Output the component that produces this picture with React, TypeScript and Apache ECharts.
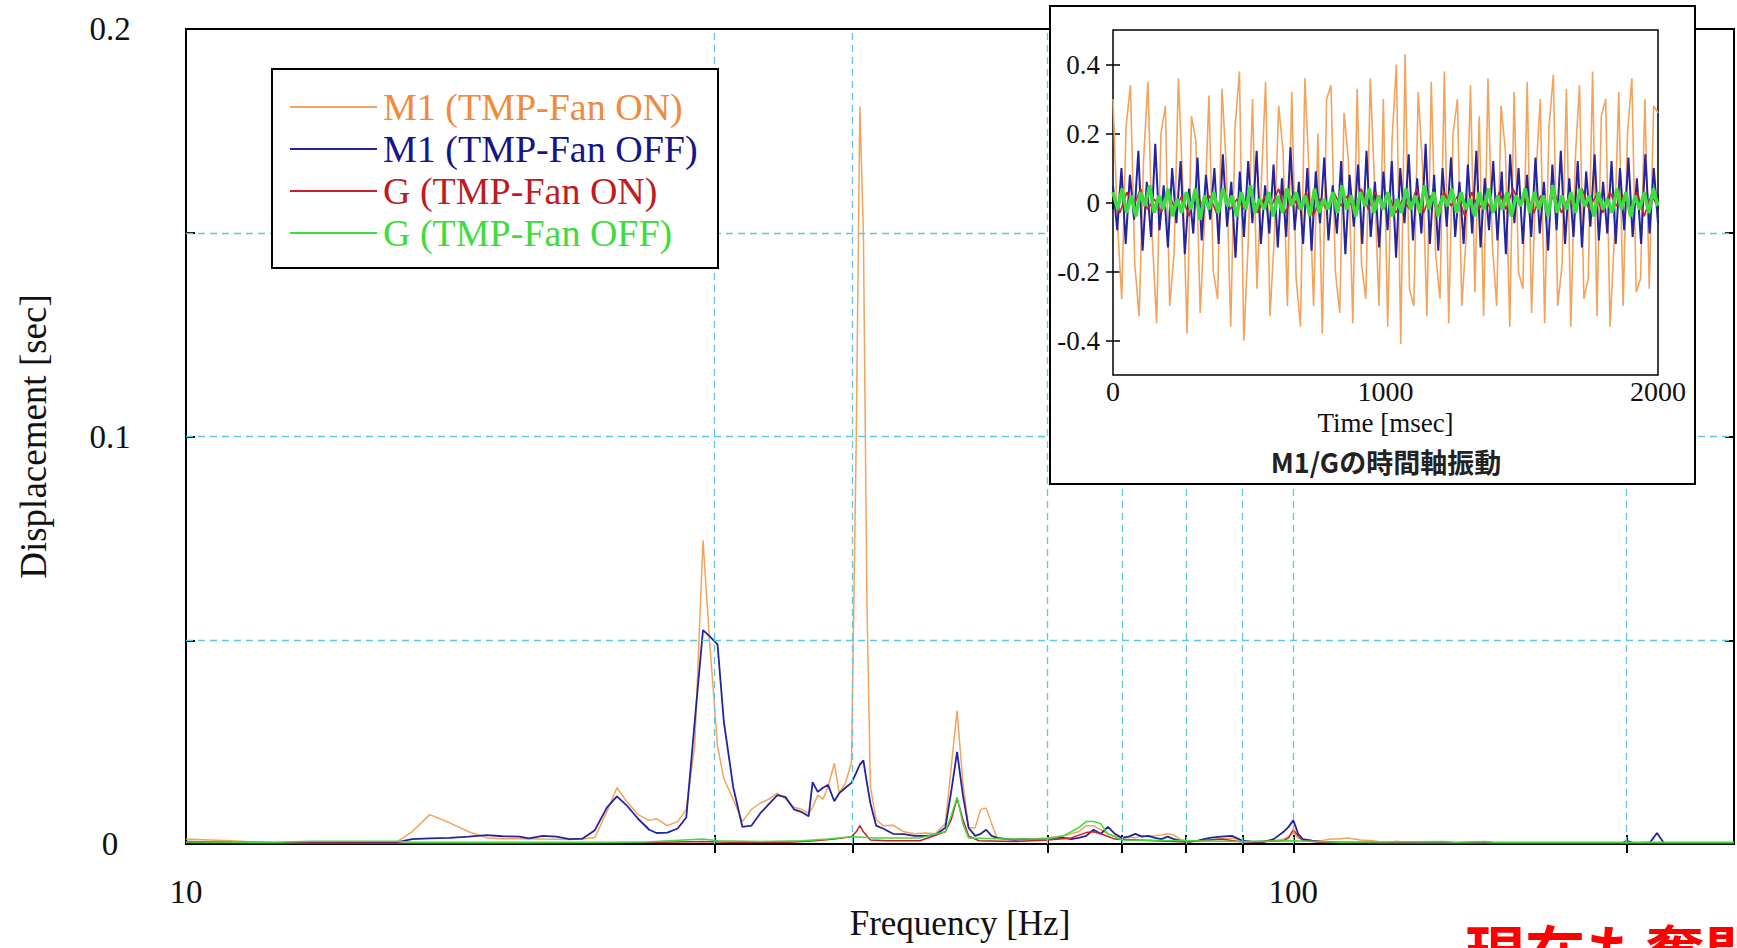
import React, { useEffect, useRef } from "react";
import * as echarts from "echarts";

// ---- Main spectrum data: [frequency Hz, displacement] ----
const M1_FAN_ON: [number, number][] = [
  [10,0.0012],[10.5,0.001],[11,0.0008],[11.5,0.0005],[12,0.0004],[13,0.0003],[14,0.0003],[15,0.0003],[15.5,0.0005],
  [16,0.003],[16.6,0.0072],[17.3,0.0052],[18,0.003],[18.7,0.0015],[19.3,0.0013],[20,0.0013],[21,0.0012],[22.2,0.0011],
  [22.8,0.0012],[23.4,0.0016],[24,0.008],[24.5,0.0138],[25,0.0105],[25.6,0.0072],[26.2,0.0058],[26.6,0.0062],[27.2,0.0045],
  [27.8,0.0055],[28.3,0.0085],[28.8,0.024],[29.3,0.0745],[29.7,0.05],[30.2,0.024],[30.6,0.016],[31.2,0.011],[31.8,0.0055],
  [32.4,0.0085],[33,0.01],[33.6,0.011],[34.2,0.0125],[34.8,0.011],[35.4,0.009],[36,0.0085],[36.5,0.0075],[36.8,0.009],
  [37.2,0.012],[37.6,0.011],[38,0.014],[38.5,0.0198],[38.9,0.0125],[39.4,0.015],[39.9,0.02],[40.3,0.1],[40.6,0.181],
  [40.9,0.15],[41.2,0.06],[41.5,0.014],[42,0.006],[42.6,0.0045],[43.5,0.0046],[44.5,0.003],[45.5,0.0025],[46.5,0.0027],
  [47.5,0.0025],[48.5,0.005],[49.1,0.019],[49.7,0.0327],[50.3,0.015],[50.9,0.004],[51.6,0.004],[52.2,0.0085],[52.8,0.0088],
  [53.4,0.005],[54,0.0015],[56,0.0012],[58,0.0012],[60,0.0015],[62,0.002],[63,0.0025],[64,0.003],[65,0.0045],[66,0.0045],
  [67,0.0035],[68,0.0025],[69,0.002],[70,0.0015],[71,0.0018],[72,0.0015],[73,0.002],[74,0.0018],[75,0.002],[76,0.0022],
  [77,0.0025],[78,0.0022],[79,0.0012],[80,0.0008],[82,0.0008],[84,0.001],[86,0.0012],[88,0.0015],[90,0.0008],[92,0.0005],
  [94,0.0005],[96,0.0008],[98,0.0012],[99,0.0018],[100,0.0028],[101,0.0015],[102,0.001],[104,0.0008],[106,0.0008],
  [108,0.0012],[110,0.0012],[112,0.0015],[115,0.001],[118,0.0008],[121,0.0003],[124,0.0007],[128,0.0003],[140,0.0002],
  [160,0.0002],[200,0.0002],[250,0.0002],
];

const M1_FAN_OFF: [number, number][] = [
  [10,0.0006],[11,0.0004],[12,0.0003],[15,0.0003],[15.5,0.0004],[16,0.0012],[16.6,0.0014],[17.3,0.0015],[18,0.0018],
  [18.7,0.0022],[19.3,0.0019],[20,0.0018],[20.4,0.0014],[21,0.002],[21.6,0.0018],[22.2,0.0012],[22.8,0.0013],[23.4,0.0034],
  [24,0.009],[24.5,0.0117],[25,0.0095],[25.6,0.0062],[26.2,0.0035],[26.6,0.0027],[27.2,0.0028],[27.8,0.0038],[28.3,0.0065],
  [28.8,0.03],[29.3,0.0525],[29.7,0.051],[30.2,0.049],[30.6,0.03],[31.2,0.014],[31.8,0.0042],[32.4,0.0045],[33,0.0075],
  [33.6,0.0098],[34.2,0.012],[34.8,0.0115],[35.4,0.0085],[36,0.0078],[36.5,0.0068],[36.8,0.0152],[37.2,0.0128],[37.6,0.0138],
  [38,0.0145],[38.5,0.0105],[38.9,0.0125],[39.4,0.0138],[39.9,0.015],[40.3,0.0175],[40.6,0.0195],[40.9,0.0205],[41.2,0.015],
  [41.5,0.01],[42,0.0045],[42.6,0.0038],[43.5,0.0025],[44.5,0.0024],[45.5,0.002],[46.5,0.002],[47.5,0.0022],[48.5,0.004],
  [49.1,0.013],[49.7,0.0226],[50.3,0.012],[50.9,0.004],[51.6,0.002],[52.2,0.0025],[52.8,0.0035],[53.4,0.002],[54,0.0015],
  [55,0.0012],[56,0.001],[57,0.0012],[58,0.001],[60,0.0012],[61,0.0015],[62,0.0015],[63,0.0012],[64,0.0015],[65,0.002],
  [66,0.0035],[67,0.0025],[68,0.0042],[69,0.0025],[70,0.0015],[71,0.0018],[72,0.0025],[73,0.0018],[74,0.002],[75,0.0015],
  [76,0.0012],[77,0.0018],[78,0.0012],[79,0.0008],[80,0.0005],[82,0.0008],[84,0.0015],[86,0.0018],[88,0.002],[90,0.0008],
  [92,0.0005],[94,0.0005],[96,0.0012],[98,0.003],[99,0.0042],[100,0.0058],[101,0.0025],[102,0.0012],[104,0.0008],
  [106,0.0005],[110,0.0004],[130,0.0002],[198,0.0002],[200,0.0008],[203,0.0002],[210,0.0004],[213,0.0027],[216,0.0003],
  [250,0.0002],
];

const G_FAN_ON: [number, number][] = [
  [10,0.0003],[15,0.0002],[20,0.0002],[24,0.0003],[27,0.0004],[29.3,0.0006],[31,0.0004],[35,0.0004],[37,0.0008],
  [38.5,0.0012],[39.9,0.0018],[40.3,0.003],[40.6,0.0045],[40.9,0.003],[41.5,0.001],[43,0.0008],[46,0.0008],[48.5,0.003],
  [49.1,0.006],[49.7,0.0112],[50.3,0.006],[50.9,0.002],[52,0.0008],[56,0.0006],[60,0.001],[63,0.0015],[65,0.0028],
  [66,0.003],[67,0.0025],[69,0.0012],[75,0.0008],[80,0.0005],[86,0.0012],[90,0.0005],[98,0.0008],[99,0.0015],
  [100,0.0035],[101,0.002],[102,0.0008],[106,0.0004],[130,0.0002],[250,0.0002],
];

const G_FAN_OFF: [number, number][] = [
  [10,0.0005],[12,0.0004],[13,0.0007],[15.5,0.0007],[16,0.0004],[23,0.0004],[26,0.0005],[29.3,0.0012],[30.2,0.0008],
  [33,0.0006],[36,0.0008],[38,0.0012],[40,0.0018],[42,0.0015],[46,0.0015],[48.5,0.003],[49.1,0.007],[49.7,0.0115],
  [50.3,0.005],[50.9,0.0015],[55,0.0012],[60,0.0012],[62,0.002],[63,0.003],[64,0.004],[65,0.0055],[66,0.0055],
  [67,0.005],[68,0.0025],[70,0.001],[80,0.0008],[90,0.0006],[100,0.0008],[110,0.0004],[137,0.0006],[140,0.0004],
  [149,0.0006],[152,0.0004],[250,0.0004],
];

// ---- Inset: time-domain vibration samples (evenly sampled over 0..2000 msec) ----
const TIME_ORANGE = [
  0.30,-0.05,-0.28,0.22,0.34,-0.18,-0.33,0.12,0.35,-0.10,-0.35,0.20,0.28,-0.30,-0.15,0.36,0.05,-0.38,0.25,0.18,
  -0.32,-0.05,0.31,-0.20,-0.28,0.33,0.10,-0.36,0.22,0.38,-0.40,-0.12,0.30,-0.25,0.05,0.35,-0.33,-0.10,0.28,0.15,
  -0.30,0.32,-0.22,-0.36,0.36,0.08,-0.30,0.20,-0.38,0.30,0.34,-0.20,-0.32,0.26,0.12,-0.35,0.33,-0.18,-0.28,0.36,
  0.05,-0.30,0.30,-0.36,0.18,0.40,-0.41,0.43,-0.25,-0.30,0.32,0.10,-0.33,0.35,-0.15,-0.28,0.38,-0.35,0.20,0.30,
  -0.30,-0.10,0.34,-0.26,0.25,-0.33,0.36,-0.12,-0.30,0.28,0.15,-0.36,0.32,-0.20,-0.25,0.35,-0.32,0.08,0.30,-0.35,
  0.22,0.37,-0.30,-0.18,0.33,-0.36,0.12,0.34,-0.28,-0.22,0.38,-0.33,0.25,0.30,-0.36,-0.10,0.32,-0.30,0.20,0.36,
  -0.26,-0.22,0.30,-0.25,0.28,0.26,
];
const TIME_BLUE = [
  0.05,-0.08,0.10,-0.12,0.08,-0.05,0.15,-0.14,0.06,-0.10,0.17,-0.08,0.05,-0.13,0.10,-0.06,0.12,-0.15,0.04,-0.09,
  0.13,-0.11,0.08,-0.05,0.10,-0.12,0.14,-0.07,0.06,-0.16,0.09,-0.10,0.12,-0.06,0.15,-0.12,0.05,-0.09,0.11,-0.13,
  0.07,-0.10,0.16,-0.08,0.06,-0.12,0.10,-0.14,0.09,-0.06,0.13,-0.11,0.05,-0.09,0.12,-0.15,0.08,-0.07,0.11,-0.12,
  0.15,-0.10,0.06,-0.13,0.09,-0.08,0.12,-0.16,0.10,-0.06,0.14,-0.11,0.07,-0.09,0.17,-0.12,0.08,-0.14,0.10,-0.07,
  0.13,-0.10,0.06,-0.12,0.11,-0.09,0.15,-0.13,0.07,-0.08,0.12,-0.11,0.09,-0.15,0.14,-0.06,0.10,-0.12,0.08,-0.10,
  0.13,-0.09,0.06,-0.14,0.11,-0.08,0.15,-0.12,0.07,-0.10,0.12,-0.13,0.09,-0.07,0.14,-0.11,0.06,-0.09,0.12,-0.12,
  0.10,-0.08,0.13,-0.10,0.07,-0.12,0.14,-0.09,0.10,-0.06,
];
const TIME_RED = [
  0.02,-0.03,0.03,-0.01,0.04,-0.02,0.01,-0.03,0.03,-0.02,0.02,-0.04,0.03,-0.01,0.02,-0.03,0.04,-0.02,0.01,-0.02,
  0.03,-0.03,0.02,-0.01,0.04,-0.03,0.02,-0.02,0.03,-0.04,0.01,-0.02,0.03,-0.01,0.02,-0.03,0.04,-0.02,0.03,-0.01,
  0.02,-0.03,0.01,-0.02,0.04,-0.03,0.02,-0.02,0.03,-0.01,0.02,-0.04,0.03,-0.02,0.01,-0.03,0.03,-0.02,0.04,-0.01,
  0.02,-0.03,0.02,-0.02,0.03,-0.03,0.01,-0.02,0.04,-0.02,0.02,-0.03,0.03,-0.01,0.02,-0.02,0.03,-0.04,0.02,-0.01,
];
const TIME_GREEN = [
  0.03,-0.02,0.04,-0.03,0.02,-0.04,0.03,-0.01,0.05,-0.03,0.02,-0.02,0.04,-0.04,0.01,-0.03,0.03,-0.02,0.04,-0.05,
  0.02,-0.02,0.03,-0.03,0.04,-0.01,0.02,-0.04,0.03,-0.02,0.05,-0.03,0.01,-0.02,0.03,-0.04,0.02,-0.03,0.04,-0.01,
  0.03,-0.02,0.02,-0.04,0.04,-0.03,0.01,-0.02,0.03,-0.03,0.05,-0.02,0.02,-0.04,0.03,-0.01,0.04,-0.03,0.02,-0.02,
  0.03,-0.04,0.01,-0.03,0.04,-0.02,0.02,-0.03,0.05,-0.02,0.03,-0.04,0.02,-0.01,0.04,-0.03,0.03,-0.02,0.01,-0.04,
  0.03,-0.02,0.04,-0.03,0.02,-0.02,0.03,-0.04,0.02,-0.01,0.04,-0.03,0.03,-0.02,0.02,-0.04,0.05,-0.03,0.02,-0.02,
  0.03,-0.03,0.04,-0.01,0.02,-0.04,0.03,-0.02,0.01,-0.03,0.04,-0.02,0.03,-0.04,0.02,-0.02,0.03,-0.03,0.04,-0.01,
];

// ---- Axis ticks / labels ----
const FREQ_GRID = [30, 40, 60, 70, 80, 90, 100, 200];
const FREQ_LABELS = [10, 100];
const DISP_GRID = [0.05, 0.1, 0.15];
const INSET_Y_TICKS = [-0.4, -0.2, 0, 0.2, 0.4];
const INSET_TIME_MAX = 2000;

const NAMES = ["M1 (TMP-Fan ON)", "M1 (TMP-Fan OFF)", "G (TMP-Fan ON)", "G (TMP-Fan OFF)"];
const COLORS = ["#F4A35C", "#24249E", "#C8202A", "#3EDC3E"];
const TEXT_COLORS = ["#F08A3C", "#14148C", "#C01A22", "#3EDC3E"];

const SERIF = "'Liberation Serif', 'Times New Roman', serif";
const CJK = "'Noto Sans CJK JP', 'Noto Sans', sans-serif";
const GRID_COLOR = "#5CC9DE";

function toTimeSeries(vals: number[]): [number, number][] {
  const step = INSET_TIME_MAX / (vals.length - 1);
  return vals.map((v, i) => [i * step, v]);
}

export default function App() {
  const ref = useRef<HTMLDivElement>(null);
  useEffect(() => {
    if (!ref.current) return;
    const chart = echarts.init(ref.current, null, { renderer: "svg" });

    const tickStyle = { color: "#000", width: 2 };
    const dashed = { color: GRID_COLOR, width: 1.3, type: [7, 5] as any };

    const option: any = {
      animation: false,
      backgroundColor: "#ffffff",
      grid: [
        {
          left: 186, top: 29, width: 1548, height: 815, show: true, borderColor: "#000", borderWidth: 2,
          backgroundColor: "transparent", z: 0, containLabel: false, outerBoundsMode: "none",
        },
        {
          left: 1113, top: 30, width: 545, height: 345, show: true, borderColor: "#000", borderWidth: 1.5,
          backgroundColor: "transparent", z: 10, containLabel: false, outerBoundsMode: "none",
        },
      ],
      xAxis: [
        {
          gridIndex: 0, type: "log", logBase: 10, min: 10, max: 250, position: "bottom",
          axisLine: { show: false },
          axisTick: { show: true, inside: true, length: 9, customValues: FREQ_GRID, lineStyle: tickStyle },
          axisLabel: { show: true, customValues: FREQ_LABELS, fontSize: 33, fontFamily: SERIF, color: "#111", margin: 31 },
          splitLine: { show: false }, minorTick: { show: false },
          name: "Frequency [Hz]", nameLocation: "middle", nameGap: 62, nameMoveOverlap: false,
          nameTextStyle: { fontSize: 35, fontFamily: SERIF, color: "#111" },
        },
        {
          gridIndex: 0, type: "log", logBase: 10, min: 10, max: 250, position: "top",
          axisLine: { show: false },
          axisTick: { show: true, inside: true, length: 9, customValues: FREQ_GRID, lineStyle: tickStyle },
          axisLabel: { show: false }, splitLine: { show: false },
        },
        {
          gridIndex: 1, type: "value", min: 0, max: INSET_TIME_MAX, interval: 1000, position: "bottom", z: 10,
          axisLine: { show: false },
          axisTick: { show: true, inside: true, length: 7, lineStyle: { color: "#000", width: 1.5 } },
          axisLabel: { fontSize: 28, fontFamily: SERIF, color: "#111", margin: 2, formatter: (v: number) => String(v) },
          splitLine: { show: false },
          name: "Time [msec]", nameLocation: "middle", nameGap: 34,
          nameTextStyle: { fontSize: 27, fontFamily: SERIF, color: "#111" },
        },
        {
          gridIndex: 1, type: "value", min: 0, max: INSET_TIME_MAX, interval: 1000, position: "top", z: 10,
          axisLine: { show: false },
          axisTick: { show: true, inside: true, length: 7, lineStyle: { color: "#000", width: 1.5 } },
          axisLabel: { show: false }, splitLine: { show: false },
        },
      ],
      yAxis: [
        {
          gridIndex: 0, type: "value", min: 0, max: 0.2, interval: 0.05, position: "left",
          axisLine: { show: false },
          axisTick: { show: true, inside: true, length: 9, lineStyle: tickStyle },
          axisLabel: {
            fontSize: 33, fontFamily: SERIF, color: "#111", margin: 76, align: "center",
            formatter: (v: number) => (Math.abs(v) < 1e-9 ? "0" : Math.abs(v - 0.1) < 1e-9 ? "0.1" : Math.abs(v - 0.2) < 1e-9 ? "0.2" : ""),
          },
          splitLine: { show: false },
          name: "Displacement [sec]", nameLocation: "middle", nameGap: 134, nameRotate: 90,
          nameTextStyle: { fontSize: 37, fontFamily: SERIF, color: "#111" },
        },
        {
          gridIndex: 0, type: "value", min: 0, max: 0.2, interval: 0.05, position: "right",
          axisLine: { show: false },
          axisTick: { show: true, inside: true, length: 9, lineStyle: tickStyle },
          axisLabel: { show: false }, splitLine: { show: false },
        },
        {
          gridIndex: 1, type: "value", min: -0.5, max: 0.5, position: "left", z: 10,
          axisLine: { show: false },
          axisTick: { show: true, inside: true, length: 7, customValues: INSET_Y_TICKS, lineStyle: { color: "#000", width: 1.5 } },
          axisLabel: { customValues: INSET_Y_TICKS, fontSize: 27, fontFamily: SERIF, color: "#111", margin: 13 },
          splitLine: { show: false },
        },
        {
          gridIndex: 1, type: "value", min: -0.5, max: 0.5, position: "right", z: 10,
          axisLine: { show: false },
          axisTick: { show: true, inside: true, length: 7, customValues: INSET_Y_TICKS, lineStyle: { color: "#000", width: 1.5 } },
          axisLabel: { show: false }, splitLine: { show: false },
        },
      ],
      legend: {
        orient: "vertical", left: 290, top: 88, padding: 0, itemGap: 4,
        itemWidth: 87, itemHeight: 2, icon: "rect", z: 20,
        textStyle: { fontSize: 38, fontFamily: SERIF, padding: [0, 0, 0, 1] },
        data: NAMES.map((n, i) => ({ name: n, itemStyle: { color: COLORS[i] }, textStyle: { color: TEXT_COLORS[i] } })),
      },
      series: [
        // grid lines (drawn through the axis scales)
        {
          type: "line", xAxisIndex: 0, yAxisIndex: 0, data: [], silent: true, z: 1,
          markLine: {
            silent: true, symbol: "none", label: { show: false },
            lineStyle: dashed,
            data: [
              ...FREQ_GRID.map((f) => ({ xAxis: f })),
              ...DISP_GRID.map((d) => ({ yAxis: d })),
            ],
          },
        },
        ...[M1_FAN_ON, M1_FAN_OFF, G_FAN_ON, G_FAN_OFF].map((d, i) => ({
          name: NAMES[i], type: "line", xAxisIndex: 0, yAxisIndex: 0, data: d,
          showSymbol: false, symbol: "none", z: 2 + i,
          lineStyle: { color: COLORS[i], width: i === 1 ? 1.8 : 1.5 },
          itemStyle: { color: COLORS[i] },
        })),
        ...[TIME_ORANGE, TIME_BLUE, TIME_RED, TIME_GREEN].map((d, i) => ({
          name: NAMES[i] + " (t)", type: "line", xAxisIndex: 2, yAxisIndex: 2, data: toTimeSeries(d),
          showSymbol: false, symbol: "none", z: 12 + i,
          lineStyle: { color: COLORS[i], width: i === 3 ? 3.5 : i === 1 ? 2 : 1.6 },
        })),
      ],
      graphic: [
        { type: "rect", z: 6, shape: { x: 272, y: 69, width: 446, height: 199 }, style: { fill: "#fff", stroke: "#000", lineWidth: 2 } },
        { type: "rect", z: 6, shape: { x: 1050, y: 6, width: 645, height: 478 }, style: { fill: "#fff", stroke: "#000", lineWidth: 2 } },
        {
          type: "text", z: 20, x: 1386, y: 461,
          style: { text: "M1/Gの時間軸振動", fontSize: 27, fontWeight: "bold", fontFamily: CJK, fill: "#222", textAlign: "center", textVerticalAlign: "middle" },
        },
        {
          type: "text", z: 20, x: 1465, y: 919,
          style: { text: "現在も奮闘中", fontSize: 60, fontWeight: "bold", fontFamily: CJK, fill: "#ff0000", textAlign: "left", textVerticalAlign: "top" },
        },
      ],
    };

    chart.setOption(option);
    return () => chart.dispose();
  }, []);

  return (
    <div
      ref={ref}
      style={{ position: "fixed", left: 0, top: 0, width: 1737, height: 948, background: "#fff" }}
    />
  );
}
